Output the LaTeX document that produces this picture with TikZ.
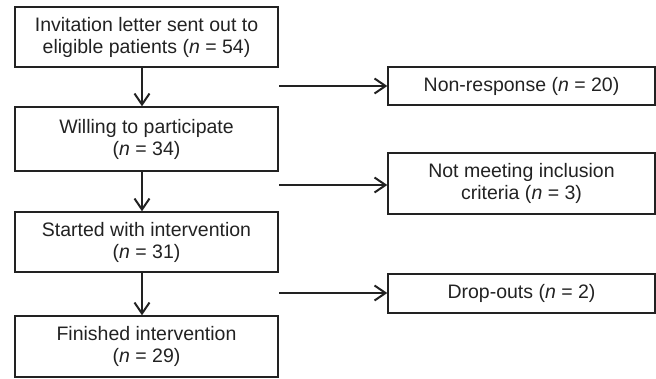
\documentclass[tikz,border=0pt]{standalone}
\usepackage{fontspec}
\setmainfont{Liberation Sans}
\usetikzlibrary{arrows.meta}
\definecolor{ink}{HTML}{222222}
\begin{document}
\begin{tikzpicture}[x=1pt,y=-1pt,
  box/.style={draw=ink,line width=1.4pt,rectangle,inner sep=0pt,align=center,
    font=\fontsize{19.5}{22}\selectfont,text=ink},
  lbox/.style={box,minimum width=263pt},
  rbox/.style={box,minimum width=267pt},
  flow/.style={draw=ink,line width=2pt,-{Straight Barb[length=11pt,width=15pt,line width=2pt]}}]
\useasboundingbox (0,0) rectangle (656,378);
\node[lbox,minimum height=60pt] (b1) at (146.5,37) {Invitation letter sent out to\\eligible patients (\textit{n} = 54)};
\node[lbox,minimum height=64pt] (b2) at (146.5,139) {Willing to participate\\(\textit{n} = 34)};
\node[lbox,minimum height=60pt] (b3) at (146.5,242) {Started with intervention\\(\textit{n} = 31)};
\node[lbox,minimum height=61pt] (b4) at (146.5,346.5) {Finished intervention\\(\textit{n} = 29)};
\node[rbox,minimum height=38pt] (r1) at (521.5,86) {Non-response (\textit{n} = 20)};
\node[rbox,minimum height=61pt] (r2) at (521.5,183.5) {Not meeting inclusion\\criteria (\textit{n} = 3)};
\node[rbox,minimum height=39pt] (r3) at (521.5,293.5) {Drop-outs (\textit{n} = 2)};
\coordinate (s1) at (279,86);
\coordinate (s2) at (279,185);
\coordinate (s3) at (279,293);
\draw[flow] ([xshift=-4.5pt]b1.south) -- ([xshift=-4.5pt]b2.north);
\draw[flow] ([xshift=-4.5pt]b2.south) -- ([xshift=-4.5pt]b3.north);
\draw[flow] ([xshift=-4.5pt]b3.south) -- ([xshift=-4.5pt]b4.north);
\draw[flow] (s1) -- (s1 -| r1.west);
\draw[flow] (s2) -- (s2 -| r2.west);
\draw[flow] (s3) -- (s3 -| r3.west);
\end{tikzpicture}
\end{document}
